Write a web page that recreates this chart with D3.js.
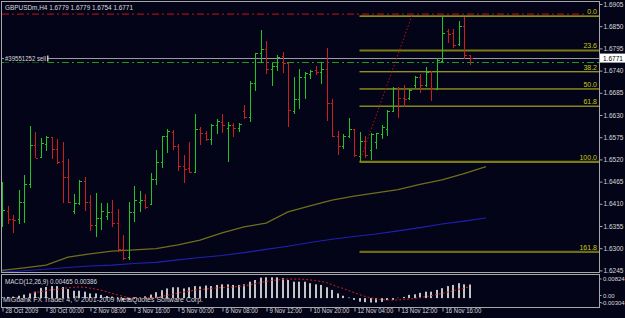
<!DOCTYPE html>
<html>
<head>
<meta charset="utf-8">
<script src="https://cdn.jsdelivr.net/npm/d3@7/dist/d3.min.js"></script>
<style>
  body { margin: 0; background: #040418; }
  svg { display: block; font-family: 'Liberation Sans', 'DejaVu Sans', sans-serif; }
</style>
</head>
<body>
<div id="chart-container"></div>
<script>
// GBPUSDm H4 bars, 28 Oct 2009 -> 17 Nov 2009
const barOpen = [1.6370,1.6393,1.6372,1.6372,1.6415,1.6458,1.6556,1.6527,1.6558,1.6575,
  1.6545,1.6517,1.6477,1.6392,1.6411,1.6467,1.6414,1.6357,1.6376,1.6380,
  1.6390,1.6363,1.6299,1.6277,1.6390,1.6415,1.6419,1.6409,1.6471,1.6514,
  1.6578,1.6589,1.6553,1.6504,1.6498,1.6490,1.6595,1.6585,1.6570,1.6604,
  1.6613,1.6597,1.6604,1.6598,1.6641,1.6626,1.6710,1.6783,1.6793,1.6743,
  1.6751,1.6776,1.6758,1.6641,1.6669,1.6723,1.6732,1.6741,1.6737,1.6743,
  1.6659,1.6578,1.6553,1.6579,1.6595,1.6529,1.6566,1.6543,1.6564,1.6583,
  1.6595,1.6641,1.6696,1.6671,1.6671,1.6704,1.6725,1.6704,1.6737,1.6694,
  1.6765,1.6838,1.6832,1.6805,1.6850,1.6779];
const barHigh = [1.6465,1.6405,1.6382,1.6444,1.6481,1.6603,1.6587,1.6574,1.6578,1.6576,
  1.6571,1.6564,1.6520,1.6434,1.6469,1.6477,1.6432,1.6437,1.6413,1.6411,
  1.6419,1.6396,1.6333,1.6415,1.6454,1.6442,1.6434,1.6487,1.6543,1.6578,
  1.6595,1.6593,1.6558,1.6531,1.6564,1.6632,1.6601,1.6590,1.6607,1.6621,
  1.6632,1.6613,1.6609,1.6611,1.6655,1.6714,1.6784,1.6841,1.6813,1.6760,
  1.6779,1.6785,1.6760,1.6723,1.6743,1.6737,1.6741,1.6751,1.6762,1.6795,
  1.6669,1.6591,1.6583,1.6622,1.6595,1.6589,1.6578,1.6585,1.6586,1.6605,
  1.6642,1.6699,1.6700,1.6704,1.6694,1.6727,1.6732,1.6750,1.6740,1.6771,
  1.6875,1.6842,1.6842,1.6863,1.6873,1.6779];
const barLow = [1.6353,1.6360,1.6337,1.6360,1.6362,1.6448,1.6523,1.6524,1.6542,1.6520,
  1.6509,1.6411,1.6412,1.6385,1.6406,1.6393,1.6343,1.6327,1.6345,1.6370,
  1.6352,1.6291,1.6272,1.6272,1.6366,1.6390,1.6398,1.6406,1.6457,1.6498,
  1.6535,1.6543,1.6492,1.6462,1.6487,1.6489,1.6556,1.6566,1.6556,1.6583,
  1.6586,1.6514,1.6575,1.6588,1.6620,1.6613,1.6690,1.6758,1.6731,1.6703,
  1.6740,1.6733,1.6600,1.6632,1.6644,1.6669,1.6718,1.6729,1.6707,1.6615,
  1.6576,1.6531,1.6545,1.6574,1.6527,1.6514,1.6523,1.6518,1.6545,1.6570,
  1.6578,1.6638,1.6622,1.6651,1.6667,1.6696,1.6684,1.6700,1.6665,1.6694,
  1.6762,1.6809,1.6795,1.6801,1.6768,1.6754];
const barClose = [1.6395,1.6372,1.6370,1.6415,1.6458,1.6556,1.6524,1.6560,1.6575,1.6545,
  1.6514,1.6477,1.6414,1.6411,1.6467,1.6415,1.6357,1.6376,1.6392,1.6390,
  1.6363,1.6297,1.6275,1.6390,1.6419,1.6419,1.6401,1.6471,1.6514,1.6578,
  1.6590,1.6553,1.6504,1.6496,1.6489,1.6595,1.6585,1.6570,1.6604,1.6615,
  1.6604,1.6604,1.6598,1.6608,1.6626,1.6710,1.6783,1.6794,1.6743,1.6751,
  1.6774,1.6760,1.6642,1.6669,1.6723,1.6735,1.6740,1.6736,1.6743,1.6659,
  1.6578,1.6553,1.6579,1.6595,1.6531,1.6566,1.6531,1.6583,1.6585,1.6601,
  1.6641,1.6696,1.6671,1.6669,1.6692,1.6725,1.6704,1.6737,1.6694,1.6766,
  1.6832,1.6831,1.6803,1.6850,1.6779,1.6771];

// moving averages, read every 4 bars (they are shifted past the last bar)
const maIndex = [0,4,8,12,16,20,24,28,32,36,40,44,48,52,56,60,64,68,72,76,80,84,88];
const maOlive = [1.6245,1.6251,1.6258,1.6278,1.6286,1.6293,1.6296,1.6299,1.6308,1.6320,1.6338,
  1.6353,1.6362,1.6390,1.6405,1.6419,1.6429,1.6437,1.6445,1.6458,1.6469,1.6485,1.6502];
const maBlue = [1.6241,1.6244,1.6248,1.6252,1.6256,1.6258,1.6262,1.6265,1.6271,1.6277,1.6282,
  1.6289,1.6297,1.6305,1.6314,1.6322,1.6329,1.6335,1.6343,1.6351,1.6360,1.6367,1.6375];

// MACD(12,26,9)
const macdHist = [0.0003,0.0004,0.0005,0.0008,0.0012,0.0017,0.0022,0.0035,0.0038,0.0041,
  0.0041,0.0038,0.0031,0.0025,0.0025,0.0022,0.0016,0.0016,0.0011,0.0007,
  0.0005,-0.0002,-0.0008,-0.0006,-0.0003,0.0002,0.0006,0.0012,0.0020,0.0027,
  0.0033,0.0037,0.0037,0.0033,0.0037,0.0041,0.0040,0.0043,0.0041,0.0045,
  0.0047,0.0047,0.0045,0.0045,0.0047,0.0056,0.0062,0.0070,0.0071,0.0071,
  0.0071,0.0068,0.0062,0.0056,0.0056,0.0056,0.0051,0.0047,0.0045,0.0037,
  0.0028,0.0016,0.0008,0.0002,-0.0006,-0.0012,-0.0014,-0.0015,-0.0015,-0.0013,
  -0.0007,-0.0006,0.0001,0.0004,0.0011,0.0013,0.0018,0.0022,0.0022,0.0028,
  0.0034,0.0041,0.0045,0.0051,0.0047,0.00465];
const macdSignal = [null,null,null,null,null,0.0015,0.0019,0.0022,0.0025,0.0028,
  0.0030,0.0033,0.0035,0.0037,0.0038,0.0037,0.0034,0.0031,0.0027,0.0022,
  0.0016,0.0011,0.0006,0.0002,0.0000,-0.0001,0.0000,0.0001,0.0003,0.0006,
  0.0009,0.0013,0.0017,0.0021,0.0024,0.0027,0.0029,0.0031,0.0033,0.0035,
  0.0036,0.0037,0.0038,0.0040,0.0042,0.0045,0.0049,0.0053,0.0057,0.0060,
  0.0062,0.0064,0.0065,0.0065,0.0065,0.0064,0.0062,0.0060,0.0057,0.0053,
  0.0046,0.0039,0.0033,0.0026,0.0019,0.0012,0.0006,0.0001,-0.0003,-0.0005,
  -0.0006,-0.0007,-0.0006,-0.0005,-0.0003,-0.0001,0.0002,0.0005,0.0008,0.0012,
  0.0016,0.0020,0.0025,0.0030,0.0034,0.00386];

// axis labels
const priceTicks = [1.6905,1.6850,1.6795,1.6740,1.6685,1.6630,1.6575,1.6520,1.6465,1.6410,1.6355,1.6300,1.6245];
const timeTickIndex = [0,8,16,24,32,40,48,56,64,72,80];
const timeLabels = ['28 Oct 2009','30 Oct 00:00','2 Nov 08:00','3 Nov 16:00','5 Nov 00:00','6 Nov 08:00',
  '9 Nov 12:00','10 Nov 20:00','12 Nov 04:00','13 Nov 12:00','16 Nov 16:00'];
const macdTicks = [0.00824, 0, -0.00304];
const macdTickLabels = ['0.00824', '0.00', '-0.00304'];

// fibonacci retracement and trade levels
const fibLevels = [0, 23.6, 38.2, 50, 61.8, 100, 161.8];
const fibPrices = [1.6514, 1.6875];   // low, high
const fibIndex = [65, 74.5];
const stopPrice = 1.6880;
const openPrice = 1.6760;
const bidPrice = 1.6771;

const svgCanvas = {width: 625, height: 318};
const frame = {left: 1.5, right: 599.5, top: 1.5, bottom: 272.5, subTop: 274.5, subBottom: 307.5};
const colors = {bg: '#040418', frame: '#a8a8a8', up: '#22c422', down: '#c81e1e', text: '#d8d8d8'};

const xScale = d3.scaleLinear().domain([0, 85]).range([2, 469.5]);
const yScale = d3.scaleLinear().domain([1.6245, 1.6905]).range([270.4, 4]);
const macdScale = d3.scaleLinear().domain([-0.00304, 0.00824]).range([307, 274]);
const px = i => Math.round(xScale(i)) + 0.5;

// the terminal font is narrower than Liberation Sans
function squeeze(selection, factor) {
    selection.each(function() {
        const w = this.getComputedTextLength();
        d3.select(this).attr('textLength', w * factor).attr('lengthAdjust', 'spacingAndGlyphs');
    });
}

const svg = d3.select('#chart-container')
        .append('svg')
        .attr('width', svgCanvas.width)
        .attr('height', svgCanvas.height)
        .style('background', colors.bg);

svg.append('clipPath').attr('id', 'main-clip')
        .append('rect')
        .attr('x', frame.left).attr('y', frame.top)
        .attr('width', frame.right - frame.left).attr('height', frame.bottom - frame.top);
svg.append('clipPath').attr('id', 'sub-clip')
        .append('rect')
        .attr('x', frame.left).attr('y', frame.subTop)
        .attr('width', frame.right - frame.left).attr('height', frame.subBottom - frame.subTop);

const mainGroup = svg.append('g').attr('clip-path', 'url(#main-clip)');

// moving averages
const maLine = d3.line().x((d, k) => xScale(maIndex[k])).y(d => yScale(d));
mainGroup.append('path').attr('d', maLine(maBlue))
        .attr('fill', 'none').attr('stroke', '#2020b0').attr('stroke-width', 1.1);
mainGroup.append('path').attr('d', maLine(maOlive))
        .attr('fill', 'none').attr('stroke', '#6e6e1c').attr('stroke-width', 1.3);

// trade lines
mainGroup.append('line')
        .attr('x1', 2).attr('x2', 585)
        .attr('y1', yScale(stopPrice)).attr('y2', yScale(stopPrice))
        .attr('stroke', '#c81414').attr('stroke-dasharray', '7,3,2,3');
mainGroup.append('line')
        .attr('x1', 2).attr('x2', frame.right)
        .attr('y1', yScale(openPrice)).attr('y2', yScale(openPrice))
        .attr('stroke', '#1e9e1e').attr('stroke-dasharray', '7,3,2,3');
mainGroup.append('line')
        .attr('x1', frame.left).attr('x2', frame.right)
        .attr('y1', Math.round(yScale(bidPrice)) + 0.5).attr('y2', Math.round(yScale(bidPrice)) + 0.5)
        .attr('stroke', '#9a9a9a');

// fibo
const fibY = lvl => yScale(fibPrices[1] - (fibPrices[1] - fibPrices[0]) * lvl / 100);
const fibStyle = {0: ['#b8b81e', 1.3], 23.6: ['#7c7c14', 2.2], 100: ['#7c7c14', 2.2], 161.8: ['#6c6c14', 2.2]};
mainGroup.selectAll('line.fib')
        .data(fibLevels)
        .enter()
        .append('line')
        .attr('class', 'fib')
        .attr('x1', xScale(fibIndex[0])).attr('x2', frame.right)
        .attr('y1', d => fibY(d)).attr('y2', d => fibY(d))
        .attr('stroke', d => fibStyle[d] ? fibStyle[d][0] : '#c8c81e')
        .attr('stroke-width', d => fibStyle[d] ? fibStyle[d][1] : 1);
mainGroup.selectAll('text.fib')
        .data(fibLevels)
        .enter()
        .append('text')
        .attr('class', 'fib')
        .attr('x', 597).attr('y', d => fibY(d) - 2)
        .attr('text-anchor', 'end')
        .attr('fill', '#c8c814')
        .attr('font-size', '7px')
        .text(d => d.toFixed(1));
mainGroup.append('line')
        .attr('x1', xScale(fibIndex[0])).attr('y1', yScale(fibPrices[0]))
        .attr('x2', xScale(fibIndex[1])).attr('y2', yScale(fibPrices[1]))
        .attr('stroke', '#b41414').attr('stroke-dasharray', '1.5,2');

// OHLC bars
const bars = barOpen.map((o, i) => ({i, o, h: barHigh[i], l: barLow[i], c: barClose[i]}));
const barG = mainGroup.selectAll('g.bar')
        .data(bars)
        .enter()
        .append('g')
        .attr('class', 'bar')
        .attr('stroke', d => d.c >= d.o ? colors.up : colors.down)
        .attr('shape-rendering', 'crispEdges');
barG.append('line')
        .attr('x1', d => px(d.i)).attr('x2', d => px(d.i))
        .attr('y1', d => yScale(d.h)).attr('y2', d => yScale(d.l));
barG.append('line')
        .attr('x1', d => px(d.i) - 2).attr('x2', d => px(d.i))
        .attr('y1', d => Math.round(yScale(d.o)) + 0.5).attr('y2', d => Math.round(yScale(d.o)) + 0.5);
barG.append('line')
        .attr('x1', d => px(d.i)).attr('x2', d => px(d.i) + 2)
        .attr('y1', d => Math.round(yScale(d.c)) + 0.5).attr('y2', d => Math.round(yScale(d.c)) + 0.5);

// order label on the bid line
const orderY = Math.round(yScale(bidPrice)) + 0.5;
mainGroup.append('rect').attr('x', 4).attr('y', orderY - 4).attr('width', 44).attr('height', 8).attr('fill', colors.bg);
mainGroup.append('text')
        .attr('x', 5).attr('y', orderY + 2.5)
        .attr('fill', colors.text).attr('font-size', '7px')
        .attr('textLength', 41).attr('lengthAdjust', 'spacingAndGlyphs')
        .text('#39551252 sell');
mainGroup.append('rect').attr('x', 47).attr('y', orderY - 3).attr('width', 1.5).attr('height', 6).attr('fill', '#c8c8c8');

// header
svg.append('text')
        .attr('x', 5).attr('y', 10)
        .attr('fill', colors.text).attr('font-size', '7.3px')
        .attr('textLength', 128).attr('lengthAdjust', 'spacingAndGlyphs')
        .text('GBPUSDm,H4  1.6779 1.6779 1.6754 1.6771');

// MACD window
const subGroup = svg.append('g').attr('clip-path', 'url(#sub-clip)');
subGroup.selectAll('rect.hist')
        .data(macdHist)
        .enter()
        .append('rect')
        .attr('class', 'hist')
        .attr('x', (d, i) => Math.round(xScale(i)) - 1)
        .attr('width', 2)
        .attr('y', d => Math.min(macdScale(d), macdScale(0)))
        .attr('height', d => Math.abs(macdScale(d) - macdScale(0)))
        .attr('fill', '#c4c4c4');
subGroup.append('path')
        .attr('d', d3.line().defined(d => d !== null).x((d, i) => xScale(i)).y(d => macdScale(d))(macdSignal))
        .attr('fill', 'none').attr('stroke', '#d41e1e').attr('stroke-width', 1)
        .attr('stroke-dasharray', '2,2');
subGroup.append('text')
        .attr('x', 5).attr('y', 284)
        .attr('fill', colors.text).attr('font-size', '7px')
        .attr('textLength', 92).attr('lengthAdjust', 'spacingAndGlyphs')
        .text('MACD(12,26,9) 0.00465 0.00386');
svg.append('text')
        .attr('x', 3).attr('y', 302)
        .attr('fill', colors.text).attr('font-size', '7px')
        .attr('textLength', 200).attr('lengthAdjust', 'spacingAndGlyphs')
        .text('MIGbank FX Trader 4, \u00a9 2001-2009 MetaQuotes Software Corp.');

// frames
[[frame.top, frame.bottom], [frame.subTop, frame.subBottom]].forEach(([t, b]) => {
    svg.append('rect')
        .attr('x', frame.left).attr('y', t)
        .attr('width', frame.right - frame.left).attr('height', b - t)
        .attr('fill', 'none').attr('stroke', colors.frame);
});

// price axis
const yAxisGenerator = d3.axisRight(yScale).tickValues(priceTicks).tickFormat(d3.format('.4f')).tickSize(3).tickPadding(1);
const yAxis = svg.append('g').attr('transform', `translate(${frame.right},0)`).call(yAxisGenerator);
yAxis.select('.domain').remove();
yAxis.selectAll('line').attr('stroke', colors.frame);
yAxis.selectAll('text').attr('fill', colors.text).attr('font-size', '6.5px').attr('font-family', 'Liberation Sans');

// bid price box
svg.append('rect')
        .attr('x', 600).attr('y', yScale(bidPrice) - 4.5)
        .attr('width', 25).attr('height', 9).attr('fill', '#ffffff');
svg.append('text')
        .attr('x', 603).attr('y', yScale(bidPrice) + 2.5)
        .attr('fill', '#000000').attr('font-size', '6.5px')
        .text(bidPrice.toFixed(4));

// macd axis labels (0.00 and the minimum sit close together at the bottom)
const macdLabelY = [279, 295.5, 302.5];
svg.selectAll('text.macd-tick')
        .data(macdTicks)
        .enter()
        .append('text')
        .attr('class', 'macd-tick')
        .attr('x', (d, i) => i === 2 ? 601 : 603).attr('y', (d, i) => macdLabelY[i] + 2.2)
        .attr('fill', colors.text).attr('font-size', '6px')
        .text((d, i) => macdTickLabels[i]);
svg.selectAll('line.macd-tick')
        .data(macdTicks)
        .enter()
        .append('line')
        .attr('class', 'macd-tick')
        .attr('x1', frame.right).attr('x2', frame.right + 2)
        .attr('y1', (d, i) => macdLabelY[i]).attr('y2', (d, i) => macdLabelY[i])
        .attr('stroke', colors.frame);

// time axis
const xAxisGenerator = d3.axisBottom(xScale).tickValues(timeTickIndex).tickFormat((d, i) => timeLabels[i]).tickSize(4);
const xAxis = svg.append('g').attr('transform', `translate(0,${frame.subBottom})`).call(xAxisGenerator);
xAxis.select('.domain').remove();
xAxis.selectAll('line').attr('stroke', colors.frame).attr('transform', 'translate(0.5,0)');
xAxis.selectAll('text')
        .attr('fill', colors.text).attr('font-size', '7px').attr('font-family', 'Liberation Sans')
        .attr('text-anchor', 'start').attr('x', 3).attr('y', 1).attr('dy', '0.71em')
        .call(squeeze, 0.86);
</script>
</body>
</html>
